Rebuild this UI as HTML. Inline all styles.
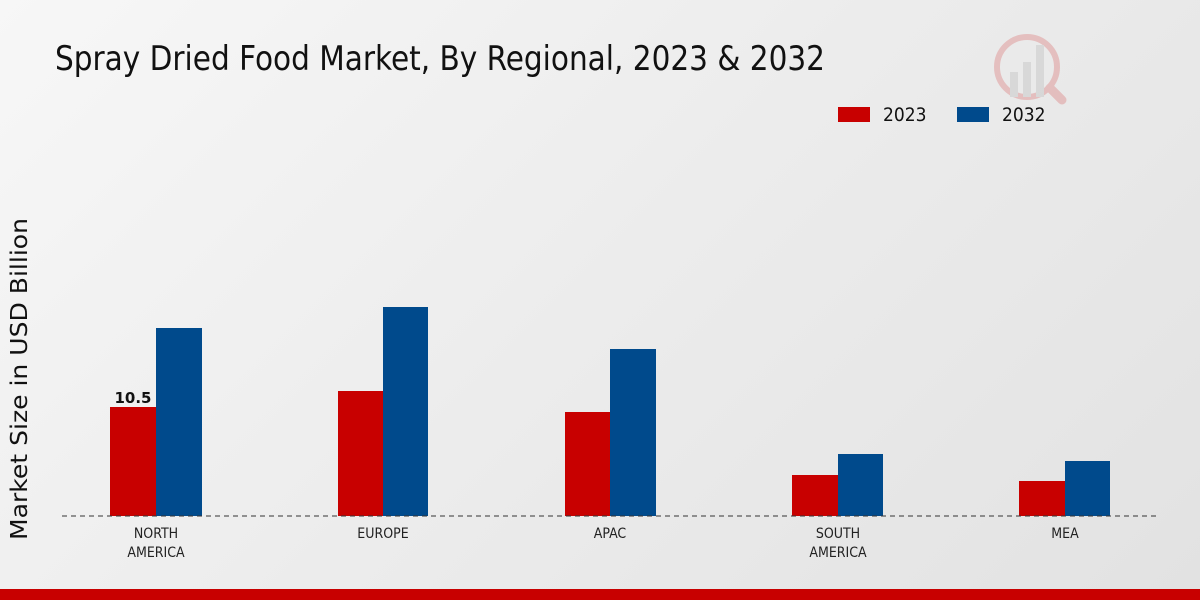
<!DOCTYPE html>
<html><head><meta charset="utf-8"><style>
html,body{margin:0;padding:0}
body{width:1200px;height:600px;overflow:hidden;background:linear-gradient(135deg,#f7f7f7 0%,#ececec 50%,#e2e2e2 100%);font-family:"DejaVu Sans","Liberation Sans",sans-serif;position:relative}
</style></head><body>
<svg width="1200" height="600" style="position:absolute;left:0;top:0">
<text x="55" y="70" font-family="DejaVu Sans Condensed, DejaVu Sans, sans-serif" font-size="34" fill="#111" textLength="770" lengthAdjust="spacingAndGlyphs">Spray Dried Food Market, By Regional, 2023 &amp; 2032</text>
<g opacity="0.18">
<circle cx="1027" cy="67" r="30" fill="none" stroke="#c00" stroke-width="6"/>
<rect x="1010" y="72" width="8" height="25" fill="#888"/><rect x="1023" y="62" width="8" height="35" fill="#888"/><rect x="1036" y="45" width="8" height="52" fill="#888"/>
<line x1="1050" y1="88" x2="1062" y2="100" stroke="#c00" stroke-width="9" stroke-linecap="round"/>
</g>
<rect x="838" y="107" width="32" height="15" fill="#c80000"/>
<text x="883" y="121" font-size="19" fill="#111" font-family="DejaVu Sans Condensed, DejaVu Sans, sans-serif">2023</text>
<rect x="957" y="107" width="32" height="15" fill="#004a8c"/>
<text x="1002" y="121" font-size="19" fill="#111" font-family="DejaVu Sans Condensed, DejaVu Sans, sans-serif">2032</text>
<text transform="translate(27,379) rotate(-90)" text-anchor="middle" font-size="23" fill="#111" textLength="322" lengthAdjust="spacingAndGlyphs">Market Size in USD Billion</text>
<g fill="#c80000">
<rect x="110" y="407" width="46" height="109"/><rect x="338" y="391" width="45" height="125"/><rect x="565" y="412" width="45" height="104"/><rect x="792" y="475" width="46" height="41"/><rect x="1019" y="481" width="46" height="35"/>
</g>
<g fill="#004a8c">
<rect x="156" y="328" width="46" height="188"/><rect x="383" y="307" width="45" height="209"/><rect x="610" y="349" width="46" height="167"/><rect x="838" y="454" width="45" height="62"/><rect x="1065" y="461" width="45" height="55"/>
</g>
<line x1="62" y1="516" x2="1160" y2="516" stroke="#333" stroke-width="1" stroke-dasharray="5,4"/>
<text x="133" y="403" text-anchor="middle" font-size="15" font-weight="bold" fill="#111">10.5</text>
<g font-size="14" fill="#222" text-anchor="middle" font-family="DejaVu Sans Condensed, DejaVu Sans, sans-serif">
<text x="156" y="538">NORTH</text><text x="156" y="557">AMERICA</text>
<text x="383" y="538">EUROPE</text>
<text x="610" y="538">APAC</text>
<text x="838" y="538">SOUTH</text><text x="838" y="557">AMERICA</text>
<text x="1065" y="538">MEA</text>
</g>
<rect x="0" y="589" width="1200" height="11" fill="#c80000"/>
</svg>
</body></html>
